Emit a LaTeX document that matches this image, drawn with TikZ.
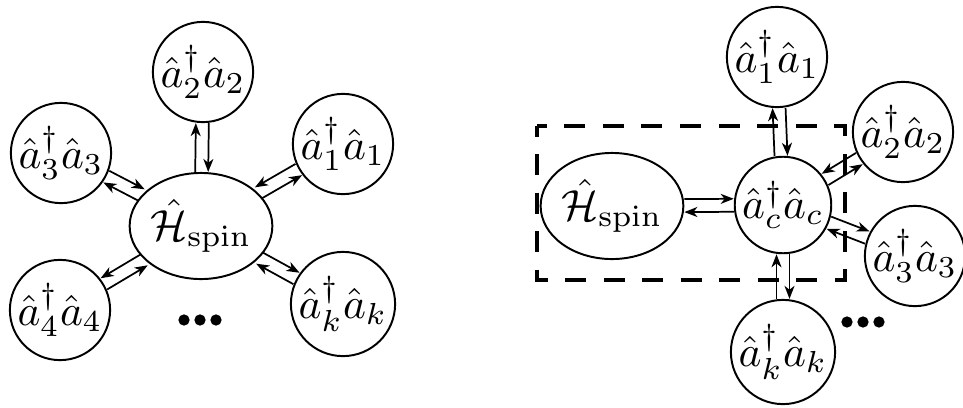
\documentclass[tikz,border=0pt]{standalone}
\usepackage{amsmath,amssymb}
\usepackage{tikz}
\usetikzlibrary{shapes.geometric, arrows.meta, positioning}

\begin{document}
\begin{tikzpicture}[
  x=0.23pt, y=-0.23pt,
  >={Stealth[length=3pt,width=2.3pt,inset=0.9pt]},
  mode/.style={
    circle,
    draw,
    line width=0.45pt,
    minimum size=22.2pt,
    inner sep=0pt,
  },
  spin/.style={
    ellipse,
    draw,
    line width=0.45pt,
    minimum width=30.6pt,
    minimum height=24.4pt,
    inner sep=0pt,
  },
  arr/.style={
    ->,
    line width=0.4pt,
    transform canvas={shift={#1}},
  },
  cavity/.style={
    line width=0.7pt,
    dash pattern=on 4.83pt off 4.03pt,
    dash phase=2.4pt,
  },
]
\useasboundingbox (0,0) rectangle (963,407);

% ============================================================
% LEFT: spin coupled to every mode
% ============================================================
\node[spin] (lspin) at (201,226) {$\hat{\mathcal{H}}_{\mathrm{spin}}$};
\node[mode] (la1) at (343,144) {$\hat{a}_1^{\dagger}\hat{a}_1$};
\node[mode] (la2) at (203,72)  {$\hat{a}_2^{\dagger}\hat{a}_2$};
\node[mode] (la3) at (61,153)  {$\hat{a}_3^{\dagger}\hat{a}_3$};
\node[mode] (la4) at (60,310)  {$\hat{a}_4^{\dagger}\hat{a}_4$};
\node[mode] (lak) at (343,304) {$\hat{a}_k^{\dagger}\hat{a}_k$};

\coordinate (ldots) at (200,320);
\foreach \dx in {-16,0,16}
  \fill ([xshift=\dx*0.23pt]ldots) circle (1.3pt);

\draw[arr={(-6.5,0)}]     (lspin) -- (la2);
\draw[arr={(6.5,0)}]      (la2) -- (lspin);
\draw[arr={(3.3,5.6)}]    (lspin) -- (la1);
\draw[arr={(-3.3,-5.6)}]  (la1) -- (lspin);
\draw[arr={(3.1,-5.7)}]   (lspin) -- (lak);
\draw[arr={(-3.1,5.7)}]   (lak) -- (lspin);
\draw[arr={(-3,5.8)}]     (lspin) -- (la3);
\draw[arr={(3,-5.8)}]     (la3) -- (lspin);
\draw[arr={(-3.3,-5.6)}]  (lspin) -- (la4);
\draw[arr={(3.3,5.6)}]    (la4) -- (lspin);

% ============================================================
% RIGHT: spin coupled to one cavity mode
% ============================================================
\draw[cavity] (537,126) rectangle (845,280);

\node[spin] (rspin) at (612,206) {$\hat{\mathcal{H}}_{\mathrm{spin}}$};
\node[mode] (rac) at (783,205) {$\hat{a}_c^{\dagger}\hat{a}_c$};
\node[mode] (ra1) at (777,57)  {$\hat{a}_1^{\dagger}\hat{a}_1$};
\node[mode] (ra2) at (903,132) {$\hat{a}_2^{\dagger}\hat{a}_2$};
\node[mode] (ra3) at (915,256) {$\hat{a}_3^{\dagger}\hat{a}_3$};
\node[mode] (rak) at (783,352) {$\hat{a}_k^{\dagger}\hat{a}_k$};

\coordinate (rdots) at (863,322);
\foreach \dx in {-16,0,16}
  \fill ([xshift=\dx*0.23pt]rdots) circle (1.3pt);

\draw[arr={(0,-6.5)}]     (rspin) -- (rac);
\draw[arr={(0,6.5)}]      (rac) -- (rspin);
\draw[arr={(-6.5,0)}]     (rac) -- (ra1);
\draw[arr={(6.5,0)}]      (ra1) -- (rac);
\draw[arr={(3.4,5.6)}]    (rac) -- (ra2);
\draw[arr={(-3.4,-5.6)}]  (ra2) -- (rac);
\draw[arr={(2.3,-6.1)}]   (rac) -- (ra3);
\draw[arr={(-2.3,6.1)}]   (ra3) -- (rac);
\draw[arr={(-6.5,0)}]     (rak) -- (rac);
\draw[arr={(6.5,0)}]      (rac) -- (rak);

\end{tikzpicture}
\end{document}
